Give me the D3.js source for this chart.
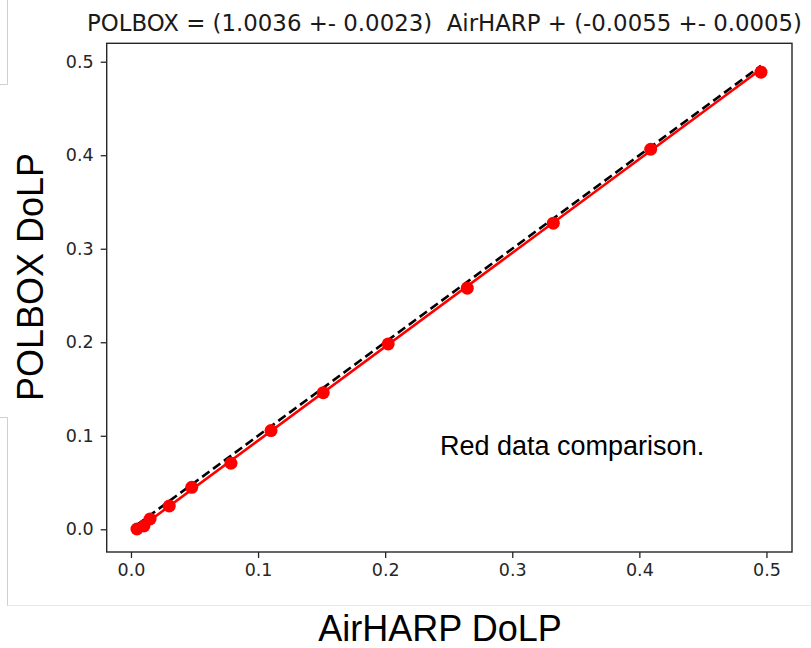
<!DOCTYPE html>
<html>
<head>
<meta charset="utf-8">
<script src="https://cdn.jsdelivr.net/npm/d3@7"></script>
<style>
  body { margin: 0; background: #fff; }
  svg { display: block; }
</style>
</head>
<body>
<div id="chart"></div>
<script>
// AirHARP vs POLBOX DoLP, red channel
const airharp = [0.0047, 0.0102, 0.0150, 0.0301, 0.0478, 0.0787, 0.1102, 0.1513, 0.2024, 0.2646, 0.3323, 0.4089, 0.4957];
const polbox  = [0.0003, 0.0035, 0.0110, 0.0249, 0.0449, 0.0706, 0.1055, 0.1461, 0.1982, 0.2578, 0.3273, 0.4064, 0.4888];
const slope = 1.0036;
const intercept = -0.0055;
const tickVals = [0.0, 0.1, 0.2, 0.3, 0.4, 0.5];
const titleText = 'POLBOX = (1.0036 +- 0.0023)  AirHARP + (-0.0055 +- 0.0005)';

const width = 811, height = 648;
const mLeft = 106.7, mRight = 792, mTop = 43.3, mBottom = 552;

const svg = d3.select('#chart').append('svg')
  .attr('width', width)
  .attr('height', height);

// faint frame lines left over in the screenshot
const ghost = svg.append('g').attr('fill', 'none');
ghost.append('path').attr('d', 'M0,84.5H7.5V0').attr('stroke', '#cfcfcf').attr('stroke-width', 1);
ghost.append('path').attr('d', 'M0,417.5H7.5V606').attr('stroke', '#cfcfcf').attr('stroke-width', 1);
ghost.append('path').attr('d', 'M7.5,605.5H811').attr('stroke', '#e8e8e8').attr('stroke-width', 1);

const xScale = d3.scaleLinear().domain([-0.0191, 0.5201]).range([mLeft, mRight]);
const yScale = d3.scaleLinear().domain([-0.0243, 0.5197]).range([mBottom, mTop]);

const plot = svg.append('g');

// fit line and y = x reference (dashed)
const xr = d3.extent(airharp);
const line = d3.line().x(d => xScale(d[0])).y(d => yScale(d[1]));

plot.append('path')
  .datum(xr.map(v => [v, slope * v + intercept]))
  .attr('d', line)
  .attr('fill', 'none')
  .attr('stroke', '#ff0000')
  .attr('stroke-width', 2.6);

plot.append('path')
  .datum(xr.map(v => [v, v]))
  .attr('d', line)
  .attr('fill', 'none')
  .attr('stroke', '#000')
  .attr('stroke-width', 2.6)
  .attr('stroke-dasharray', '9,4.5');

plot.selectAll('circle')
  .data(airharp.map((v, i) => [v, polbox[i]]))
  .enter()
  .append('circle')
  .attr('cx', d => xScale(d[0]))
  .attr('cy', d => yScale(d[1]))
  .attr('r', 6.5)
  .attr('fill', '#ff0000');

// frame
svg.append('rect')
  .attr('x', mLeft).attr('y', mTop)
  .attr('width', mRight - mLeft).attr('height', mBottom - mTop)
  .attr('fill', 'none')
  .attr('stroke', '#262626')
  .attr('stroke-width', 1.4);

const xAxis = d3.axisBottom(xScale).tickValues(tickVals).tickFormat(d3.format('.1f')).tickSize(6).tickPadding(6);
const yAxis = d3.axisLeft(yScale).tickValues(tickVals).tickFormat(d3.format('.1f')).tickSize(6).tickPadding(7);

const gx = svg.append('g').attr('transform', 'translate(0,' + mBottom + ')').call(xAxis);
const gy = svg.append('g').attr('transform', 'translate(' + mLeft + ',0)').call(yAxis);
[gx, gy].forEach(g => {
  g.select('.domain').remove();
  g.selectAll('line').attr('stroke', '#262626').attr('stroke-width', 1.3);
  g.selectAll('text')
    .attr('fill', '#262626')
    .style('font-family', 'DejaVu Sans')
    .style('font-size', '17.5px');
});

// title (keep the double space)
svg.append('text')
  .attr('x', 87).attr('y', 31)
  .attr('textLength', 715)
  .attr('lengthAdjust', 'spacingAndGlyphs')
  .style('white-space', 'pre')
  .style('font-family', 'DejaVu Sans')
  .style('font-size', '23px')
  .attr('fill', '#1a1a1a')
  .text(titleText);

// axis labels
svg.append('text')
  .attr('x', 440).attr('y', 641)
  .attr('text-anchor', 'middle')
  .style('font-family', 'Liberation Sans')
  .style('font-size', '36px')
  .attr('fill', '#000')
  .text('AirHARP DoLP');

svg.append('text')
  .attr('transform', 'translate(43,277) rotate(-90)')
  .attr('text-anchor', 'middle')
  .style('font-family', 'Liberation Sans')
  .style('font-size', '36px')
  .attr('fill', '#000')
  .text('POLBOX DoLP');

svg.append('text')
  .attr('x', 440).attr('y', 455)
  .style('font-family', 'Liberation Sans')
  .style('font-size', '27px')
  .attr('fill', '#000')
  .text('Red data comparison.');
</script>
</body>
</html>
